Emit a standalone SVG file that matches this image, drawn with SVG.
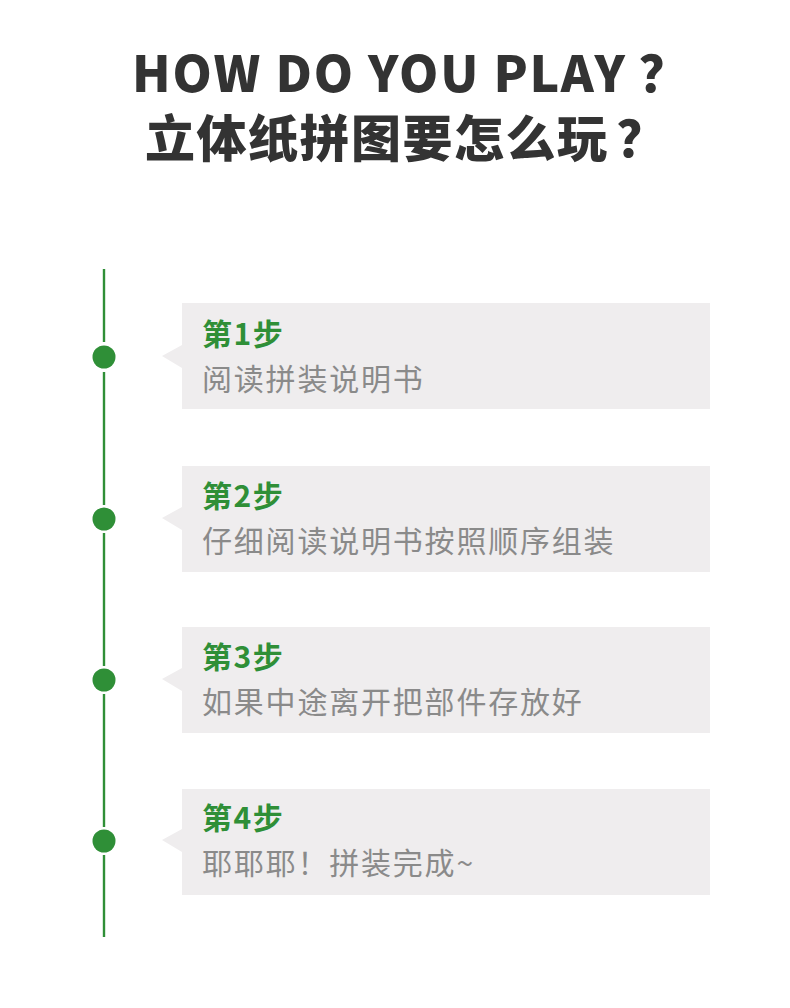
<svg xmlns="http://www.w3.org/2000/svg" width="790" height="1008" viewBox="0 0 790 1008">
<style>
.title{font-family:"Noto Sans CJK SC","Noto Sans",sans-serif;font-weight:900;font-size:50px;fill:#333333;letter-spacing:1.8px;}
.box{fill:#efedee;}
.step{font-family:"Noto Sans CJK SC",sans-serif;font-weight:700;font-size:30px;fill:#2f8f37;letter-spacing:1.5px;}
.desc{font-family:"Noto Sans CJK SC",sans-serif;font-weight:400;font-size:30px;fill:#8a8a8a;letter-spacing:1.8px;}
.line{stroke:#2f8f37;stroke-width:2.4;fill:none;}
.dot{fill:#2f8f37;}
</style>
<rect width="790" height="1008" fill="#ffffff"/>
<g id="title">
<text class="title" x="132" y="92">HOW DO YOU PLAY<tspan dx="12">？</tspan></text>
<text class="title" x="145" y="157" style="letter-spacing:1.5px">立体纸拼图要怎么玩<tspan dx="8">？</tspan></text>
</g>
<g id="connectors">
<line class="line" x1="104" y1="269" x2="104" y2="342"/>
<line class="line" x1="104" y1="372" x2="104" y2="505"/>
<line class="line" x1="104" y1="533" x2="104" y2="666"/>
<line class="line" x1="104" y1="694" x2="104" y2="827"/>
<line class="line" x1="104" y1="855" x2="104" y2="937"/>
</g>
<g id="step1">
<circle class="dot" cx="104" cy="357" r="11.5"/>
<rect class="box" x="182" y="303" width="528" height="106"/>
<polygon class="box" points="182,345 162,356 182,368"/>
<text class="step" x="202" y="345">第1步</text>
<text class="desc" x="202" y="390">阅读拼装说明书</text>
</g>
<g id="step2">
<circle class="dot" cx="104" cy="519" r="11.5"/>
<rect class="box" x="182" y="466" width="528" height="106"/>
<polygon class="box" points="182,507 162,518 182,530"/>
<text class="step" x="202" y="507">第2步</text>
<text class="desc" x="202" y="552">仔细阅读说明书按照顺序组装</text>
</g>
<g id="step3">
<circle class="dot" cx="104" cy="680" r="11.5"/>
<rect class="box" x="182" y="627" width="528" height="106"/>
<polygon class="box" points="182,668 162,679 182,691"/>
<text class="step" x="202" y="668">第3步</text>
<text class="desc" x="202" y="713">如果中途离开把部件存放好</text>
</g>
<g id="step4">
<circle class="dot" cx="104" cy="841" r="11.5"/>
<rect class="box" x="182" y="789" width="528" height="106"/>
<polygon class="box" points="182,829 162,840 182,852"/>
<text class="step" x="202" y="829">第4步</text>
<text class="desc" x="202" y="874">耶耶耶！拼装完成~</text>
</g>
</svg>
